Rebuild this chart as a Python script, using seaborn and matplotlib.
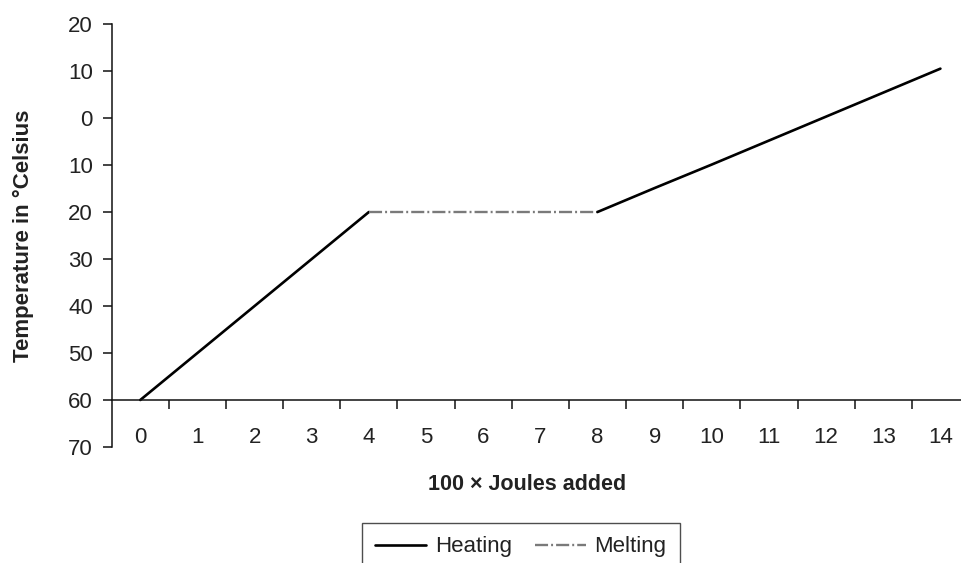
import matplotlib
matplotlib.use("Agg")
import matplotlib.pyplot as plt
import seaborn as sns
import pandas as pd
from matplotlib.ticker import FixedLocator

# ---- data ----
joules_labels = [str(i) for i in range(15)]
heat1_x = [0, 1, 2, 3, 4]
heat1_t = [-60, -50, -40, -30, -20]
melt_x = [4, 5, 6, 7, 8]
melt_t = [-20, -20, -20, -20, -20]
heat2_x = [8, 9, 10, 11, 12, 13, 14]
heat2_t = [-20, -14.9, -9.9, -4.8, 0.3, 5.4, 10.5]
y_ticks = [-70, -60, -50, -40, -30, -20, -10, 0, 10, 20]
y_tick_labels = [str(abs(v)) for v in y_ticks]

sns.set_theme(style="ticks")
plt.rcParams["font.family"] = ["Liberation Sans", "DejaVu Sans"]
plt.rcParams["lines.scale_dashes"] = False
txt = "#222222"
fs = 16

fig = plt.figure(figsize=(9.61, 5.63), dpi=100)
ax = fig.add_axes([111.7 / 961, 1 - 447 / 563, 1 - 111.7 / 961, (447 - 24) / 563])

d1 = pd.DataFrame({"x": heat1_x, "t": heat1_t})
dm = pd.DataFrame({"x": melt_x, "t": melt_t})
d2 = pd.DataFrame({"x": heat2_x, "t": heat2_t})

sns.lineplot(data=d1, x="x", y="t", ax=ax, color="black", linewidth=1.9, legend=False)
sns.lineplot(data=dm, x="x", y="t", ax=ax, color="#7a7a7a", linewidth=1.7,
             linestyle=(0, (9.4, 2.2, 1.4, 2.2)), legend=False)
sns.lineplot(data=d2, x="x", y="t", ax=ax, color="black", linewidth=1.9, legend=False)

ax.set_xlim(-0.5, 14.36)
ax.set_ylim(-70, 20)

ax.spines["top"].set_visible(False)
ax.spines["right"].set_visible(False)
ax.spines["bottom"].set_position(("data", -60))
for s in ("left", "bottom"):
    ax.spines[s].set_color("#111111")
    ax.spines[s].set_linewidth(1.1)

ax.set_yticks(y_ticks)
ax.set_yticklabels(y_tick_labels)
ax.tick_params(axis="y", length=6.5, width=1.1, pad=7, labelsize=fs,
               labelcolor=txt, color="#111111")

ax.set_xticks(range(len(joules_labels)))
ax.set_xticklabels(joules_labels)
ax.tick_params(axis="x", which="major", length=0, pad=19.5, labelsize=fs, labelcolor=txt)
ax.xaxis.set_minor_locator(FixedLocator([i + 0.5 for i in range(14)]))
ax.tick_params(axis="x", which="minor", length=6.5, width=1.1, direction="out",
               color="#111111")

ax.set_xlabel("100 \u00d7 Joules added", fontsize=15.5, fontweight="bold", color=txt)
ax.xaxis.set_label_coords((527 - 111.7) / 849.3, (447 - 474) / 423)
ax.set_ylabel("Temperature in \u00b0Celsius", fontsize=fs, fontweight="bold", color=txt)
ax.yaxis.set_label_coords((34 - 111.7) / 849.3, 0.5)

lines = ax.get_lines()
leg = fig.legend([lines[0], lines[1]], ["Heating", "Melting"],
                 loc="upper center", bbox_to_anchor=(521 / 961, 1 - 523 / 563),
                 ncol=2, frameon=True, fancybox=False, fontsize=fs,
                 handlelength=2.3, handletextpad=0.4, columnspacing=1.0,
                 borderpad=0.6, borderaxespad=0)
leg.get_frame().set_edgecolor("#222222")
leg.get_frame().set_linewidth(1.0)
for t in leg.get_texts():
    t.set_color(txt)

fig.savefig("out.png", dpi=100)
